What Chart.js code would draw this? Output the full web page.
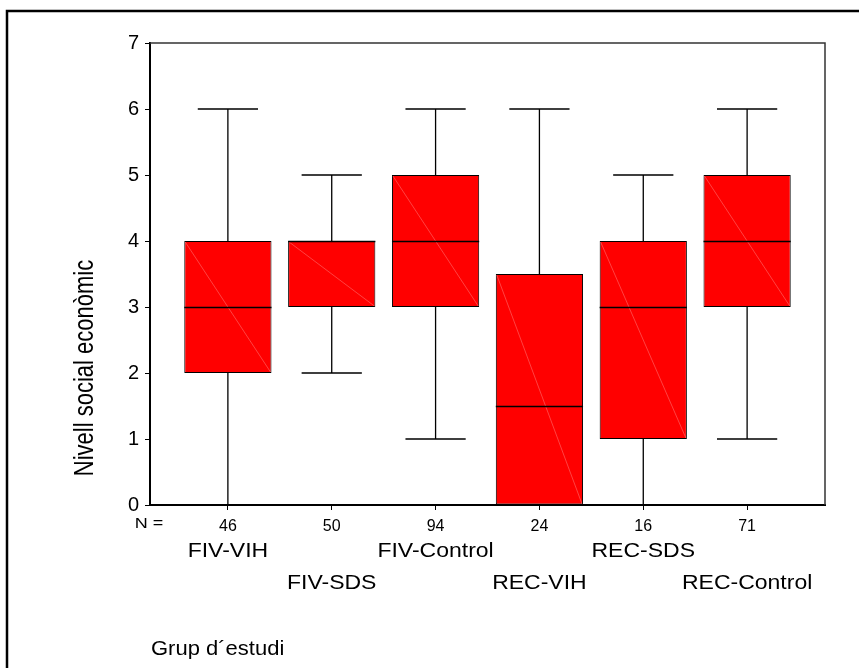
<!DOCTYPE html>
<html>
<head>
<meta charset="utf-8">
<script src="https://cdn.jsdelivr.net/npm/chart.js@4/dist/chart.umd.min.js"></script>
<style>
  body { margin: 0; background: #fff; }
  canvas { display: block; }
</style>
</head>
<body>
<canvas id="canva" width="859" height="668"></canvas>
<script>
const groups = ["FIV-VIH", "FIV-SDS", "FIV-Control", "REC-VIH", "REC-SDS", "REC-Control"];
const counts = [46, 50, 94, 24, 16, 71];
const mins = [0, 2, 1, 0, 0, 1];
const q1s = [2, 3, 3, 0, 1, 3];
const medians = [3, 4, 4, 1.5, 3, 4];
const q3s = [4, 4, 5, 3.5, 4, 5];
const maxs = [6, 5, 6, 6, 5, 6];
const yTicks = [0, 1, 2, 3, 4, 5, 6, 7];

const FONT = "'Liberation Sans', Arial, sans-serif";

function drawText(ctx, text, x, y, size, align, sx) {
  ctx.save();
  ctx.translate(x, y);
  ctx.scale(sx, 1);
  ctx.font = size + "px " + FONT;
  ctx.fillStyle = "#000";
  ctx.textAlign = align;
  ctx.textBaseline = "middle";
  ctx.fillText(text, 0, 0);
  ctx.restore();
}

// whiskers, medians, box diagonals, frame and the free-standing labels
const boxExtras = {
  id: "boxExtras",
  beforeDraw(chart) {
    const ctx = chart.ctx;
    ctx.save();
    ctx.strokeStyle = "#000";
    ctx.lineWidth = 2.5;
    ctx.beginPath();
    ctx.moveTo(7, 668);
    ctx.lineTo(7, 11);
    ctx.lineTo(859, 11);
    ctx.stroke();
    ctx.restore();
  },
  afterDatasetsDraw(chart) {
    const ctx = chart.ctx;
    const x = chart.scales.x;
    const y = chart.scales.y;
    const bars = chart.getDatasetMeta(0).data;
    const capHalf = x.getPixelForValue(0.29) - x.getPixelForValue(0);
    ctx.save();
    groups.forEach((g, i) => {
      const bar = bars[i];
      const left = bar.x - bar.width / 2;
      const right = bar.x + bar.width / 2;
      const top = y.getPixelForValue(q3s[i]);
      const bottom = y.getPixelForValue(q1s[i]);
      const cx = x.getPixelForValue(i);

      ctx.strokeStyle = "rgba(255,120,120,0.55)";
      ctx.lineWidth = 1;
      ctx.beginPath();
      ctx.moveTo(left + 1, top + 1);
      ctx.lineTo(right - 1, bottom - 1);
      ctx.stroke();

      ctx.strokeStyle = "#000";
      ctx.lineWidth = 1.3;
      ctx.beginPath();
      const ym = Math.round(y.getPixelForValue(medians[i])) + 0.5;
      ctx.moveTo(left, ym);
      ctx.lineTo(right, ym);
      // upper whisker
      ctx.moveTo(cx, top);
      ctx.lineTo(cx, y.getPixelForValue(maxs[i]));
      ctx.moveTo(cx - capHalf, y.getPixelForValue(maxs[i]));
      ctx.lineTo(cx + capHalf, y.getPixelForValue(maxs[i]));
      // lower whisker
      if (mins[i] < q1s[i]) {
        ctx.moveTo(cx, bottom);
        ctx.lineTo(cx, y.getPixelForValue(mins[i]));
        ctx.moveTo(cx - capHalf, y.getPixelForValue(mins[i]));
        ctx.lineTo(cx + capHalf, y.getPixelForValue(mins[i]));
      }
      ctx.stroke();
    });

    const a = chart.chartArea;
    ctx.strokeStyle = "#333";
    ctx.lineWidth = 1.5;
    ctx.beginPath();
    ctx.moveTo(a.left, a.top);
    ctx.lineTo(a.right, a.top);
    ctx.lineTo(a.right, a.bottom);
    ctx.stroke();
    ctx.restore();
  },
  afterDraw(chart) {
    const ctx = chart.ctx;
    const x = chart.scales.x;
    drawText(ctx, "N =", 149, 524, 15, "center", 1.2);
    groups.forEach((g, i) => {
      drawText(ctx, g, x.getPixelForValue(i), i % 2 ? 583 : 551, 20, "center", 1.15);
    });
    drawText(ctx, "Grup d\u00b4estudi", 151, 649, 20, "left", 1.1);

    ctx.save();
    ctx.translate(85, 368);
    ctx.rotate(-Math.PI / 2);
    ctx.scale(1, 1.25);
    ctx.font = "22px " + FONT;
    ctx.fillStyle = "#000";
    ctx.textAlign = "center";
    ctx.textBaseline = "middle";
    ctx.fillText("Nivell social econòmic", 0, 0);
    ctx.restore();
  }
};

const data = {
  datasets: [
    {
      label: "Nivell social econòmic",
      data: groups.map((g, i) => ({ x: i, y: [q1s[i], q3s[i]] })),
      backgroundColor: "#ff0000",
      borderColor: "#000",
      borderWidth: 1,
      borderSkipped: false,
      categoryPercentage: 1,
      barPercentage: 0.84,
    },
  ],
};

const config = {
  type: "bar",
  data: data,
  options: {
    responsive: false,
    animation: false,
    layout: { padding: { top: 43, right: 34, left: 0, bottom: 0 } },
    plugins: {
      legend: { display: false },
      tooltip: { enabled: false },
    },
    scales: {
      x: {
        type: "linear",
        min: -0.75,
        max: 5.75,
        offset: false,
        afterBuildTicks: (s) => {
          s.ticks = groups.map((g, i) => ({ value: i }));
        },
        afterFit: (s) => {
          s.height = 163;
        },
        ticks: {
          autoSkip: false,
          maxRotation: 0,
          padding: 7,
          color: "#000",
          font: { family: FONT, size: 16 },
          callback: (v) => counts[v],
        },
        grid: { offset: false, drawOnChartArea: false, tickLength: 5, color: "#000" },
        border: { color: "#000", width: 2 },
      },
      y: {
        min: 0,
        max: 7,
        afterBuildTicks: (s) => {
          s.ticks = yTicks.map((v) => ({ value: v }));
        },
        afterFit: (s) => {
          s.width = 150;
        },
        ticks: {
          padding: 6,
          color: "#000",
          font: { family: FONT, size: 20 },
        },
        grid: { drawOnChartArea: false, tickLength: 5, color: "#000" },
        border: { color: "#000", width: 2 },
      },
    },
  },
  plugins: [boxExtras],
};

const myChart = new Chart(document.getElementById("canva"), config);
</script>
</body>
</html>
